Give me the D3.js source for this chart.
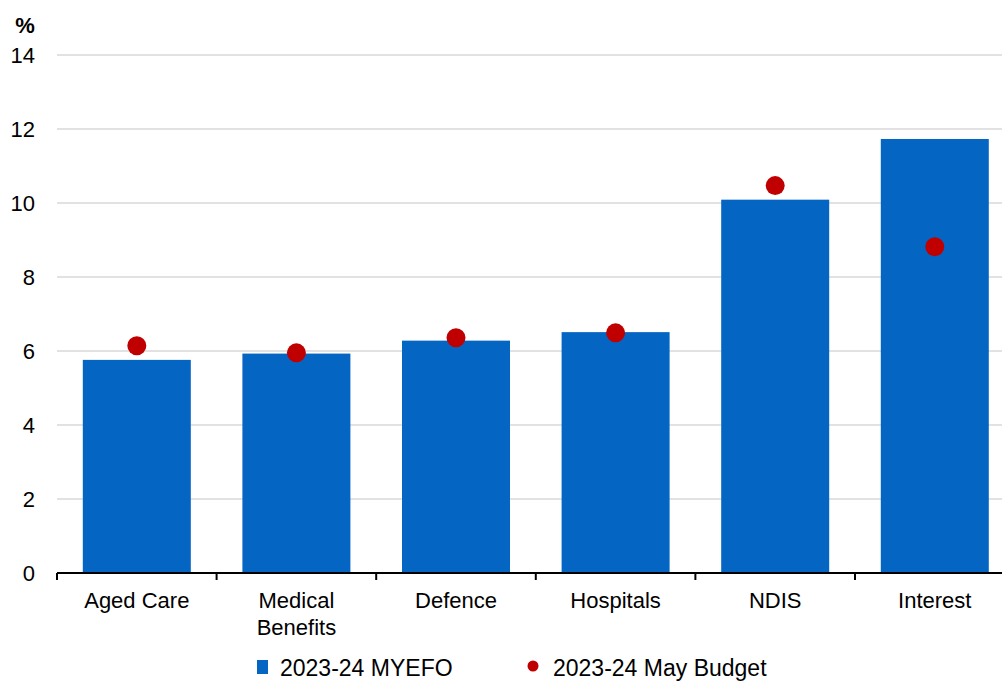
<!DOCTYPE html>
<html>
<head>
<meta charset="utf-8">
<script src="https://cdn.jsdelivr.net/npm/d3@7"></script>
<style>
  html, body { margin: 0; padding: 0; background: #fff; }
  svg { display: block; font-family: "Liberation Sans", Arial, sans-serif; }
</style>
</head>
<body>
<svg id="chart" width="1002" height="681"></svg>
<script>
// Spending categories and annual growth (%)
const categories = ["Aged Care", "Medical\nBenefits", "Defence", "Hospitals", "NDIS", "Interest"];
const myefo = [5.76, 5.93, 6.28, 6.51, 10.09, 11.73];
const mayBudget = [6.14, 5.95, 6.36, 6.49, 10.47, 8.82];
const yTicks = [0, 2, 4, 6, 8, 10, 12, 14];
const seriesNames = ["2023-24 MYEFO", "2023-24 May Budget"];

const barColor = "#0565C3";
const dotColor = "#C00000";

const svg = d3.select("#chart");
const plotLeft = 57, plotRight = 1014.6, plotTop = 55, plotBottom = 573;

const x = d3.scaleBand().domain(categories).range([plotLeft, plotRight]).paddingInner(0.3233).paddingOuter(0.1617);
const y = d3.scaleLinear().domain([0, 14]).range([plotBottom, plotTop]);

// Horizontal gridlines
svg.append("g")
  .selectAll("line")
  .data(yTicks.filter(d => d > 0))
  .join("line")
  .attr("x1", plotLeft).attr("x2", 1002)
  .attr("y1", d => y(d)).attr("y2", d => y(d))
  .attr("stroke", "#d9d9d9").attr("stroke-width", 1.3);

// Y tick labels
svg.append("g")
  .selectAll("text")
  .data(yTicks)
  .join("text")
  .attr("x", 35).attr("y", d => y(d) + 8)
  .attr("text-anchor", "end")
  .attr("font-size", 22)
  .attr("fill", "#000")
  .text(d => d);

svg.append("text")
  .attr("x", 25).attr("y", 33)
  .attr("text-anchor", "middle")
  .attr("font-size", 22).attr("font-weight", "bold")
  .text("%");

// Bars
svg.append("g")
  .selectAll("rect")
  .data(categories)
  .join("rect")
  .attr("x", d => x(d))
  .attr("width", x.bandwidth())
  .attr("y", (d, i) => y(myefo[i]))
  .attr("height", (d, i) => y(0) - y(myefo[i]))
  .attr("fill", barColor);

// X axis
const xAxisG = svg.append("g").attr("transform", `translate(0,${plotBottom})`);
const step = x.step();
const boundaries = d3.range(categories.length + 1).map(i => plotLeft + i * step);
xAxisG.append("line")
  .attr("x1", plotLeft).attr("x2", 1002)
  .attr("y1", 0).attr("y2", 0)
  .attr("stroke", "#000").attr("stroke-width", 2);
xAxisG.selectAll("line.tick")
  .data(boundaries)
  .join("line")
  .attr("class", "tick")
  .attr("x1", d => d).attr("x2", d => d)
  .attr("y1", 0).attr("y2", 7)
  .attr("stroke", "#000").attr("stroke-width", 2);

xAxisG.selectAll("text")
  .data(categories)
  .join("text")
  .attr("text-anchor", "middle")
  .attr("font-size", 22)
  .attr("fill", "#000")
  .each(function(d) {
    const lines = d.split("\n");
    const t = d3.select(this);
    lines.forEach((ln, i) => {
      t.append("tspan")
        .attr("x", x(d) + x.bandwidth() / 2)
        .attr("y", 35 + i * 27)
        .text(ln);
    });
  });

// Budget markers
svg.append("g")
  .selectAll("circle")
  .data(categories)
  .join("circle")
  .attr("cx", d => x(d) + x.bandwidth() / 2)
  .attr("cy", (d, i) => y(mayBudget[i]))
  .attr("r", 9.5)
  .attr("fill", dotColor);

// Legend
const lg = svg.append("g");
lg.append("rect").attr("x", 257).attr("y", 660).attr("width", 11).attr("height", 14).attr("fill", barColor);
lg.append("text").attr("x", 280).attr("y", 675.5).attr("font-size", 23).text(seriesNames[0]);
lg.append("circle").attr("cx", 533).attr("cy", 666).attr("r", 5.5).attr("fill", dotColor);
lg.append("text").attr("x", 553).attr("y", 675.5).attr("font-size", 23).text(seriesNames[1]);
</script>
</body>
</html>
